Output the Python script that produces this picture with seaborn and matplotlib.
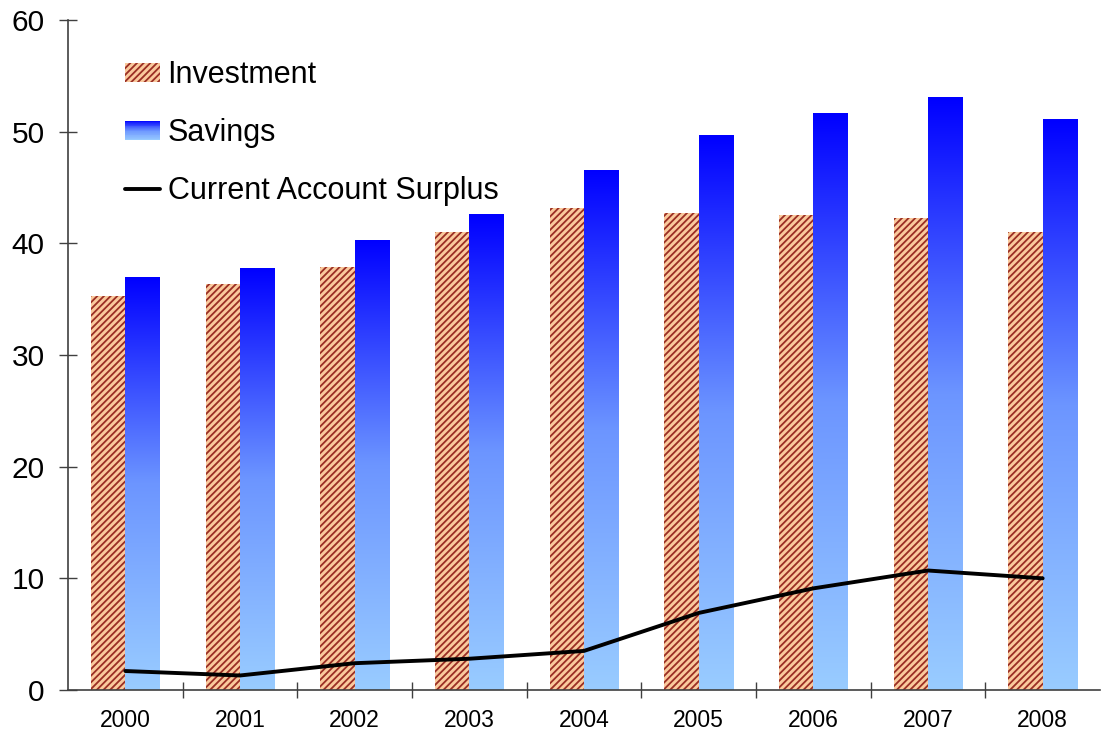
import numpy as np
import pandas as pd
import matplotlib
matplotlib.use("Agg")
import matplotlib.pyplot as plt
import seaborn as sns
from matplotlib.colors import LinearSegmentedColormap
from matplotlib.patches import Rectangle
from matplotlib.legend_handler import HandlerBase
from matplotlib.lines import Line2D

years = ["2000", "2001", "2002", "2003", "2004", "2005", "2006", "2007", "2008"]
investment = [35.3, 36.4, 37.9, 41.0, 43.2, 42.7, 42.5, 42.3, 41.0]
savings = [37.0, 37.8, 40.3, 42.6, 46.6, 49.7, 51.7, 53.1, 51.1]
surplus = [1.7, 1.3, 2.4, 2.8, 3.5, 6.9, 9.1, 10.7, 10.0]
series_names = ["Investment", "Savings", "Current Account Surplus"]

sns.set_style("white")
plt.rcParams["font.family"] = ["Liberation Sans", "DejaVu Sans"]
plt.rcParams["hatch.linewidth"] = 1.3
plt.rcParams["text.color"] = "black"
plt.rcParams["xtick.labelcolor"] = "black"
plt.rcParams["ytick.labelcolor"] = "black"

inv_face = "#FAC99C"
inv_hatch = "#9A2E24"
grad_cmap = LinearSegmentedColormap.from_list("sav", ["#99CCFF", "#6C95FF", "#0000FF"])

df = pd.DataFrame({
    "year": years * 2,
    "value": investment + savings,
    "series": [series_names[0]] * len(years) + [series_names[1]] * len(years),
})

fig = plt.figure(figsize=(11.02, 7.43), dpi=100)
ax = fig.add_axes([68 / 1102, 53 / 743, 1032 / 1102, 670 / 743])

sns.barplot(data=df, x="year", y="value", hue="series", order=years,
            hue_order=series_names[:2], palette=[inv_face, "#6C95FF"],
            width=0.6, saturation=1, gap=0, legend=False, ax=ax, zorder=2)

inv_bars = ax.containers[0]
sav_bars = ax.containers[1]
for p in inv_bars:
    p.set_facecolor(inv_face)
    p.set_edgecolor(inv_hatch)
    p.set_hatch("/////")
    p.set_linewidth(0)

grad = np.linspace(0, 1, 256).reshape(-1, 1)
for p in sav_bars:
    x0, y0 = p.get_x(), p.get_y()
    w, h = p.get_width(), p.get_height()
    p.set_facecolor("none")
    p.set_linewidth(0)
    im = ax.imshow(grad, cmap=grad_cmap, origin="lower", aspect="auto",
                   extent=[x0, x0 + w, y0, y0 + h], zorder=2, interpolation="bilinear")
    im.set_clip_path(p)

sns.lineplot(x=np.arange(len(years)), y=surplus, color="black", lw=2.8,
             ax=ax, zorder=3, legend=False)

ax.set_xlim(-0.5, len(years) - 0.5)
ax.set_ylim(0, 60)
ax.set_yticks(range(0, 61, 10))
ax.set_xticks(np.arange(len(years)))
ax.set_xticklabels(years)
ax.set_xticks(np.arange(len(years) - 1) + 0.5, minor=True)
ax.set_xlabel("")
ax.set_ylabel("")

for s in ["top", "right"]:
    ax.spines[s].set_visible(False)
for s in ["left", "bottom"]:
    ax.spines[s].set_color("#404040")
    ax.spines[s].set_linewidth(1.2)

ax.tick_params(axis="y", which="major", direction="inout", length=13.5, width=1.0,
               color="#404040", labelsize=21.5, pad=10, left=True, labelcolor="black")
ax.tick_params(axis="x", which="major", length=0, labelsize=16.5, pad=14, labelcolor="black")
ax.tick_params(axis="x", which="minor", direction="inout", length=11, width=1.0,
               color="#404040", bottom=True)


class GradientHandler(HandlerBase):
    def create_artists(self, legend, orig_handle, xdescent, ydescent, width, height, fontsize, trans):
        arts = []
        n = 24
        for i in range(n):
            c = grad_cmap(1 - (i + 0.5) / n)
            r = Rectangle((-xdescent, -ydescent + height * (1 - (i + 1) / n)), width, height / n,
                          facecolor=c, edgecolor="none", transform=trans)
            arts.append(r)
        return arts


inv_handle = Rectangle((0, 0), 1, 1, facecolor=inv_face, edgecolor=inv_hatch, hatch="/////", linewidth=0)
sav_handle = Rectangle((0, 0), 1, 1, facecolor="#6C95FF")
line_handle = Line2D([], [], color="black", lw=2.8)

leg = ax.legend([inv_handle, sav_handle, line_handle], series_names,
                handler_map={sav_handle: GradientHandler()},
                loc="upper left", bbox_to_anchor=(0.055, 0.94), frameon=False,
                fontsize=22, handlelength=1.15, handleheight=0.6, handletextpad=0.25,
                labelspacing=0.92, borderpad=0, borderaxespad=0)

fig.savefig("out.png", dpi=100)
